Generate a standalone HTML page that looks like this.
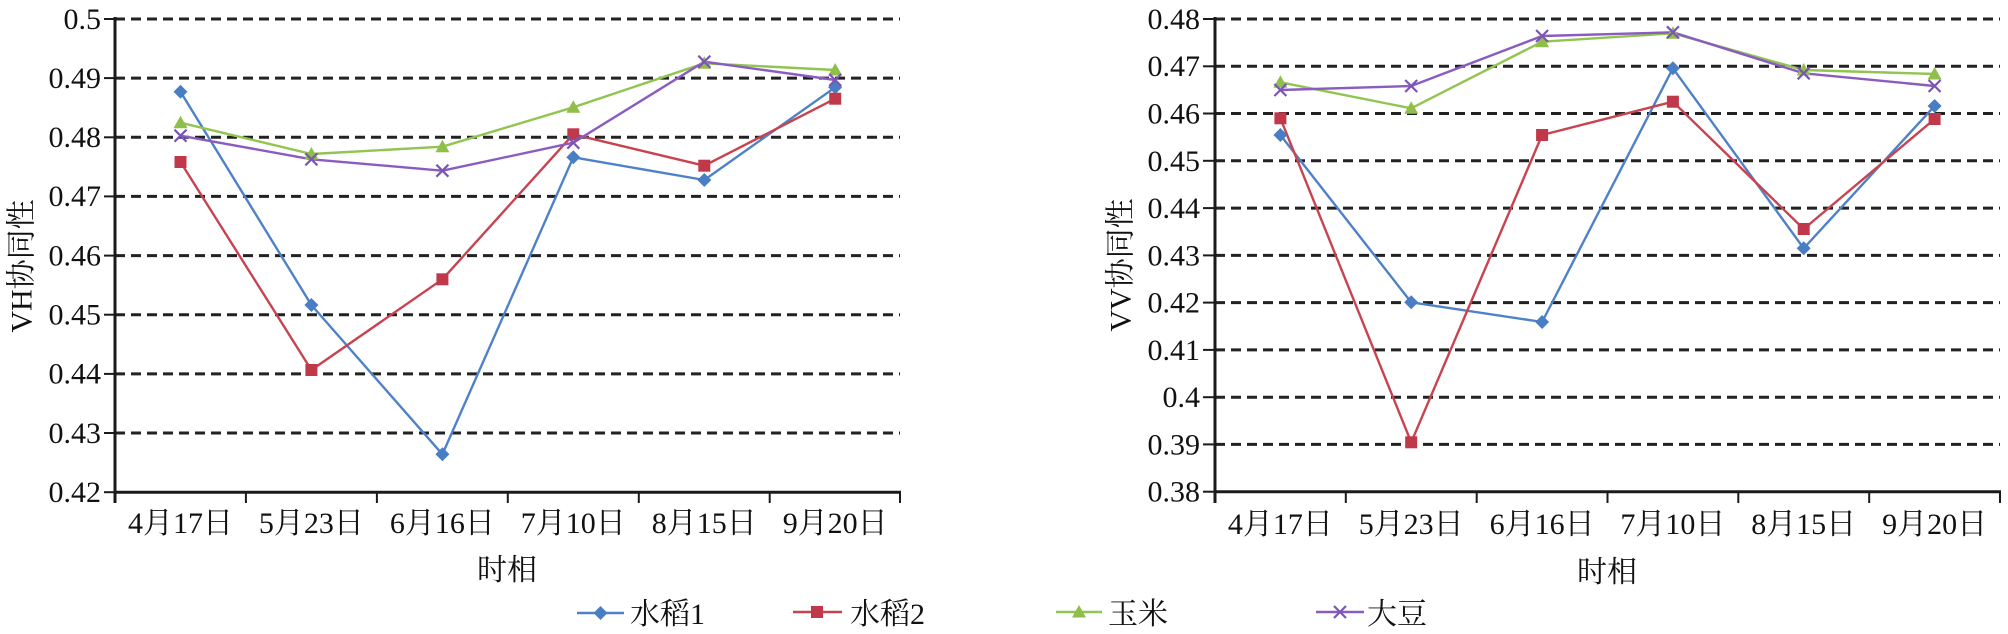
<!DOCTYPE html>
<html>
<head>
<meta charset="utf-8">
<style>
  html, body { margin:0; padding:0; background:#ffffff; }
  svg { display:block; }
  text { font-family: "Liberation Serif", "Noto Serif CJK SC", serif; fill:#111; }
</style>
</head>
<body>
<svg width="2008" height="634" viewBox="0 0 2008 634" xmlns="http://www.w3.org/2000/svg">
  <defs>
    <g id="mDia"><polygon points="0,-7 7,0 0,7 -7,0" fill="#4a7ec4"/></g>
    <g id="mSq"><rect x="-6" y="-6" width="12" height="12" fill="#c0394a"/></g>
    <g id="mTri"><polygon points="0,-7 7,5.5 -7,5.5" fill="#8fbf4a"/></g>
    <g id="mX"><path d="M-6,-6 L6,6 M-6,6 L6,-6" stroke="#7a55b5" stroke-width="2.2" fill="none"/></g>
  </defs>

  <!-- ================= LEFT CHART ================= -->
  <g stroke="#222" stroke-width="3" stroke-dasharray="10 6" fill="none">
    <line x1="115" y1="19" x2="900" y2="19"/>
    <line x1="115" y1="78.1" x2="900" y2="78.1"/>
    <line x1="115" y1="137.3" x2="900" y2="137.3"/>
    <line x1="115" y1="196.4" x2="900" y2="196.4"/>
    <line x1="115" y1="255.6" x2="900" y2="255.6"/>
    <line x1="115" y1="314.7" x2="900" y2="314.7"/>
    <line x1="115" y1="373.9" x2="900" y2="373.9"/>
    <line x1="115" y1="433" x2="900" y2="433"/>
  </g>
  <g stroke="#1a1a1a" stroke-width="3" fill="none">
    <line x1="115" y1="17" x2="115" y2="503"/>
    <line x1="113.5" y1="492.2" x2="901" y2="492.2"/>
  </g>
  <g stroke="#1a1a1a" stroke-width="2" fill="none">
    <line x1="104" y1="19" x2="115" y2="19"/>
    <line x1="104" y1="78.1" x2="115" y2="78.1"/>
    <line x1="104" y1="137.3" x2="115" y2="137.3"/>
    <line x1="104" y1="196.4" x2="115" y2="196.4"/>
    <line x1="104" y1="255.6" x2="115" y2="255.6"/>
    <line x1="104" y1="314.7" x2="115" y2="314.7"/>
    <line x1="104" y1="373.9" x2="115" y2="373.9"/>
    <line x1="104" y1="433" x2="115" y2="433"/>
    <line x1="104" y1="492.2" x2="115" y2="492.2"/>
    <line x1="245.9" y1="492" x2="245.9" y2="503"/>
    <line x1="376.9" y1="492" x2="376.9" y2="503"/>
    <line x1="507.8" y1="492" x2="507.8" y2="503"/>
    <line x1="638.8" y1="492" x2="638.8" y2="503"/>
    <line x1="769.7" y1="492" x2="769.7" y2="503"/>
    <line x1="900" y1="492" x2="900" y2="503"/>
  </g>
  <g font-size="30" text-anchor="end">
    <text x="101" y="29">0.5</text>
    <text x="101" y="88">0.49</text>
    <text x="101" y="147">0.48</text>
    <text x="101" y="206">0.47</text>
    <text x="101" y="265.5">0.46</text>
    <text x="101" y="324.5">0.45</text>
    <text x="101" y="383.5">0.44</text>
    <text x="101" y="443">0.43</text>
    <text x="101" y="502">0.42</text>
  </g>
  <g font-size="30" text-anchor="middle">
    <text x="180.5" y="533">4月17日</text>
    <text x="311.4" y="533">5月23日</text>
    <text x="442.4" y="533">6月16日</text>
    <text x="573.3" y="533">7月10日</text>
    <text x="704.3" y="533">8月15日</text>
    <text x="835.2" y="533">9月20日</text>
    <text x="507" y="580">时相</text>
  </g>
  <text font-size="30" text-anchor="middle" dominant-baseline="central" transform="translate(22,266) rotate(-90)">VH协同性</text>

  <g fill="none" stroke-width="2.4" stroke-linejoin="round">
    <polyline stroke="#4f81c8" points="180.5,91.7 311.4,305 442.4,454.3 573.3,157.3 704.3,180 835.2,87.3"/>
    <polyline stroke="#c8434f" points="180.5,162 311.4,370 442.4,279.3 573.3,134.3 704.3,165.7 835.2,98.7"/>
    <polyline stroke="#92c452" points="180.5,122.7 311.4,154 442.4,146.7 573.3,107.3 704.3,63.3 835.2,70"/>
    <polyline stroke="#8a5cc0" points="180.5,135.7 311.4,159.3 442.4,170.7 573.3,142.7 704.3,61.7 835.2,80"/>
  </g>
  <g>
    <use href="#mDia" x="180.5" y="91.7"/><use href="#mDia" x="311.4" y="305"/><use href="#mDia" x="442.4" y="454.3"/><use href="#mDia" x="573.3" y="157.3"/><use href="#mDia" x="704.3" y="180"/><use href="#mDia" x="835.2" y="87.3"/>
    <use href="#mSq" x="180.5" y="162"/><use href="#mSq" x="311.4" y="370"/><use href="#mSq" x="442.4" y="279.3"/><use href="#mSq" x="573.3" y="134.3"/><use href="#mSq" x="704.3" y="165.7"/><use href="#mSq" x="835.2" y="98.7"/>
    <use href="#mTri" x="180.5" y="122.7"/><use href="#mTri" x="311.4" y="154"/><use href="#mTri" x="442.4" y="146.7"/><use href="#mTri" x="573.3" y="107.3"/><use href="#mTri" x="704.3" y="63.3"/><use href="#mTri" x="835.2" y="70"/>
    <use href="#mX" x="180.5" y="135.7"/><use href="#mX" x="311.4" y="159.3"/><use href="#mX" x="442.4" y="170.7"/><use href="#mX" x="573.3" y="142.7"/><use href="#mX" x="704.3" y="61.7"/><use href="#mX" x="835.2" y="80"/>
  </g>

  <!-- ================= RIGHT CHART ================= -->
  <g stroke="#222" stroke-width="3" stroke-dasharray="10 6" fill="none">
    <line x1="1215" y1="19" x2="2000" y2="19"/>
    <line x1="1215" y1="66.3" x2="2000" y2="66.3"/>
    <line x1="1215" y1="113.5" x2="2000" y2="113.5"/>
    <line x1="1215" y1="160.8" x2="2000" y2="160.8"/>
    <line x1="1215" y1="208.1" x2="2000" y2="208.1"/>
    <line x1="1215" y1="255.4" x2="2000" y2="255.4"/>
    <line x1="1215" y1="302.6" x2="2000" y2="302.6"/>
    <line x1="1215" y1="349.9" x2="2000" y2="349.9"/>
    <line x1="1215" y1="397.2" x2="2000" y2="397.2"/>
    <line x1="1215" y1="444.4" x2="2000" y2="444.4"/>
  </g>
  <g stroke="#1a1a1a" stroke-width="3" fill="none">
    <line x1="1215" y1="17" x2="1215" y2="503"/>
    <line x1="1213.5" y1="491.7" x2="2001" y2="491.7"/>
  </g>
  <g stroke="#1a1a1a" stroke-width="2" fill="none">
    <line x1="1203" y1="19" x2="1215" y2="19"/>
    <line x1="1203" y1="66.3" x2="1215" y2="66.3"/>
    <line x1="1203" y1="113.5" x2="1215" y2="113.5"/>
    <line x1="1203" y1="160.8" x2="1215" y2="160.8"/>
    <line x1="1203" y1="208.1" x2="1215" y2="208.1"/>
    <line x1="1203" y1="255.4" x2="1215" y2="255.4"/>
    <line x1="1203" y1="302.6" x2="1215" y2="302.6"/>
    <line x1="1203" y1="349.9" x2="1215" y2="349.9"/>
    <line x1="1203" y1="397.2" x2="1215" y2="397.2"/>
    <line x1="1203" y1="444.4" x2="1215" y2="444.4"/>
    <line x1="1203" y1="491.7" x2="1215" y2="491.7"/>
    <line x1="1345.8" y1="491" x2="1345.8" y2="503"/>
    <line x1="1476.7" y1="491" x2="1476.7" y2="503"/>
    <line x1="1607.5" y1="491" x2="1607.5" y2="503"/>
    <line x1="1738.3" y1="491" x2="1738.3" y2="503"/>
    <line x1="1869.2" y1="491" x2="1869.2" y2="503"/>
    <line x1="2000" y1="491" x2="2000" y2="503"/>
  </g>
  <g font-size="30" text-anchor="end">
    <text x="1200" y="29">0.48</text>
    <text x="1200" y="76">0.47</text>
    <text x="1200" y="123.5">0.46</text>
    <text x="1200" y="171">0.45</text>
    <text x="1200" y="218">0.44</text>
    <text x="1200" y="265.5">0.43</text>
    <text x="1200" y="312.5">0.42</text>
    <text x="1200" y="360">0.41</text>
    <text x="1200" y="407">0.4</text>
    <text x="1200" y="454.5">0.39</text>
    <text x="1200" y="501.5">0.38</text>
  </g>
  <g font-size="30" text-anchor="middle">
    <text x="1280.4" y="534">4月17日</text>
    <text x="1411.2" y="534">5月23日</text>
    <text x="1542.1" y="534">6月16日</text>
    <text x="1672.9" y="534">7月10日</text>
    <text x="1803.7" y="534">8月15日</text>
    <text x="1934.6" y="534">9月20日</text>
    <text x="1607" y="582">时相</text>
  </g>
  <text font-size="30" text-anchor="middle" dominant-baseline="central" transform="translate(1121,265) rotate(-90)">VV协同性</text>

  <g fill="none" stroke-width="2.4" stroke-linejoin="round">
    <polyline stroke="#4f81c8" points="1280.4,135 1411.2,302.3 1542.1,322 1672.9,68.3 1803.7,248.3 1934.6,106"/>
    <polyline stroke="#c8434f" points="1280.4,118.3 1411.2,442.3 1542.1,135 1672.9,101.7 1803.7,229 1934.6,119"/>
    <polyline stroke="#92c452" points="1280.4,82.3 1411.2,108.3 1542.1,41.7 1672.9,33.3 1803.7,70 1934.6,74"/>
    <polyline stroke="#8a5cc0" points="1280.4,90 1411.2,86 1542.1,36 1672.9,32.3 1803.7,73.3 1934.6,86"/>
  </g>
  <g>
    <use href="#mDia" x="1280.4" y="135"/><use href="#mDia" x="1411.2" y="302.3"/><use href="#mDia" x="1542.1" y="322"/><use href="#mDia" x="1672.9" y="68.3"/><use href="#mDia" x="1803.7" y="248.3"/><use href="#mDia" x="1934.6" y="106"/>
    <use href="#mSq" x="1280.4" y="118.3"/><use href="#mSq" x="1411.2" y="442.3"/><use href="#mSq" x="1542.1" y="135"/><use href="#mSq" x="1672.9" y="101.7"/><use href="#mSq" x="1803.7" y="229"/><use href="#mSq" x="1934.6" y="119"/>
    <use href="#mTri" x="1280.4" y="82.3"/><use href="#mTri" x="1411.2" y="108.3"/><use href="#mTri" x="1542.1" y="41.7"/><use href="#mTri" x="1672.9" y="33.3"/><use href="#mTri" x="1803.7" y="70"/><use href="#mTri" x="1934.6" y="74"/>
    <use href="#mX" x="1280.4" y="90"/><use href="#mX" x="1411.2" y="86"/><use href="#mX" x="1542.1" y="36"/><use href="#mX" x="1672.9" y="32.3"/><use href="#mX" x="1803.7" y="73.3"/><use href="#mX" x="1934.6" y="86"/>
  </g>

  <!-- ================= LEGEND ================= -->
  <g stroke-width="2.4" fill="none">
    <line x1="577" y1="613" x2="624" y2="613" stroke="#4f81c8"/>
    <line x1="793" y1="612" x2="842" y2="612" stroke="#c8434f"/>
    <line x1="1056" y1="612" x2="1102" y2="612" stroke="#92c452"/>
    <line x1="1316" y1="612" x2="1364" y2="612" stroke="#8a5cc0"/>
  </g>
  <use href="#mDia" x="600.5" y="613"/>
  <use href="#mSq" x="817" y="612"/>
  <use href="#mTri" x="1079" y="612"/>
  <use href="#mX" x="1340" y="612"/>
  <g font-size="30">
    <text x="630" y="624">水稻1</text>
    <text x="850" y="624">水稻2</text>
    <text x="1108" y="624">玉米</text>
    <text x="1367" y="624">大豆</text>
  </g>
</svg>
</body>
</html>
